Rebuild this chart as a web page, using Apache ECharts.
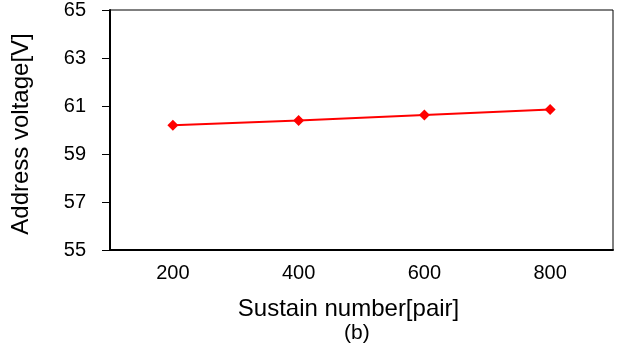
<!DOCTYPE html>
<html>
<head>
<meta charset="utf-8">
<script src="https://cdn.jsdelivr.net/npm/echarts@6/dist/echarts.min.js"></script>
<style>
  html, body { margin: 0; padding: 0; background: #fff; }
  #chart { width: 617px; height: 348px; }
</style>
</head>
<body>
<div id="chart"></div>
<script>
  const sustainNumbers = ["200", "400", "600", "800"];
  const addressVoltage = [60.2, 60.4, 60.62, 60.85];

  const chart = echarts.init(document.getElementById("chart"));
  const font = "'Liberation Sans', Arial, sans-serif";

  const option = {
    animation: false,
    grid: {
      left: 110,
      right: 4,
      top: 10,
      bottom: 98,
      show: true,
      borderColor: "#000",
      borderWidth: 1,
    },
    xAxis: {
      type: "category",
      data: sustainNumbers,
      name: "Sustain number[pair]",
      nameLocation: "middle",
      nameGap: 47,
      nameTextStyle: { fontFamily: font, fontSize: 24, color: "#000", padding: [0, 26, 0, 0] },
      axisLine: { lineStyle: { color: "#000", width: 2 } },
      axisTick: { length: 7, lineStyle: { color: "#000", width: 1 } },
      axisLabel: { fontFamily: font, fontSize: 20, color: "#000", margin: 13 },
      splitLine: { show: false },
    },
    yAxis: {
      type: "value",
      min: 55,
      max: 65,
      interval: 2,
      name: "Address voltage[V]",
      nameLocation: "middle",
      nameGap: 77,
      nameTextStyle: { fontFamily: font, fontSize: 24, color: "#000", padding: [0, 8, 0, 0] },
      axisLine: { show: true, lineStyle: { color: "#000", width: 2 } },
      axisTick: { show: true, length: 8, lineStyle: { color: "#000", width: 1 } },
      axisLabel: { fontFamily: font, fontSize: 20, color: "#000", margin: 24 },
      splitLine: { show: false },
    },
    graphic: [
      {
        type: "text",
        left: 344,
        top: 323,
        style: { text: "(b)", font: "21px " + font, fill: "#000" },
      },
    ],
    series: [
      {
        type: "line",
        data: addressVoltage,
        symbol: "diamond",
        symbolSize: 11,
        itemStyle: { color: "#ff0000" },
        lineStyle: { color: "#ff0000", width: 2 },
      },
    ],
  };

  chart.setOption(option);
</script>
</body>
</html>
